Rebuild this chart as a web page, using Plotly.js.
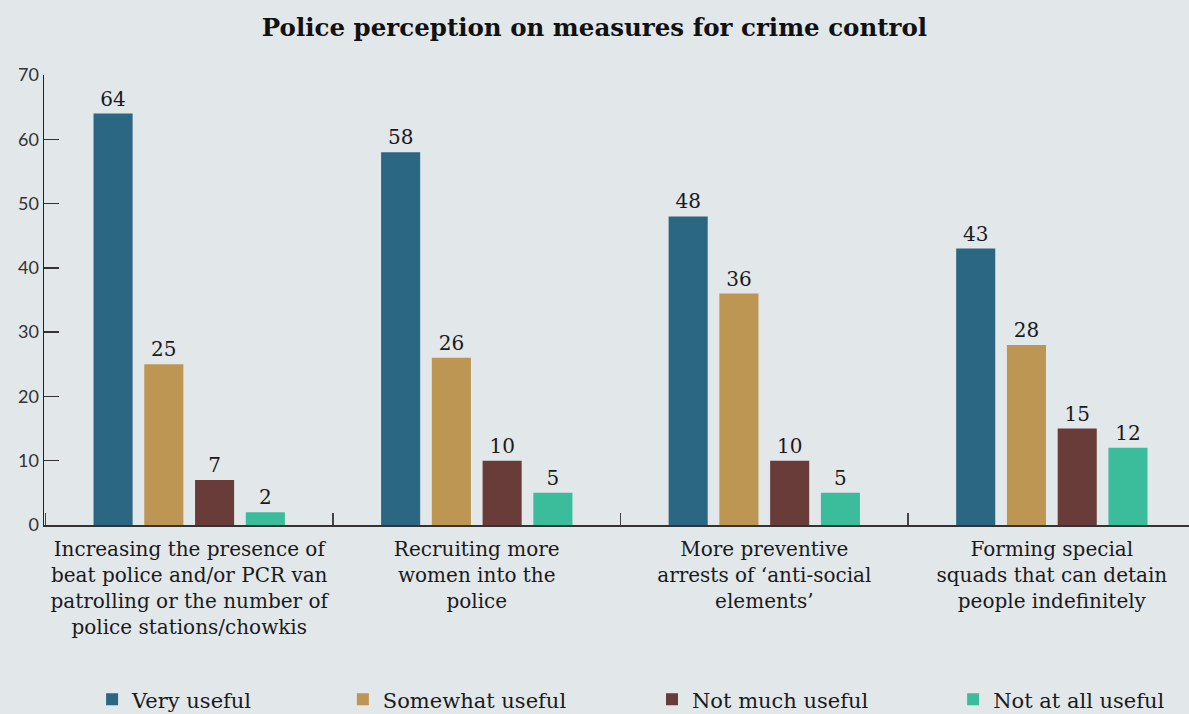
<!DOCTYPE html>
<html>
<head>
<meta charset="utf-8">
<script src="https://cdn.plot.ly/plotly-3.0.1.min.js"></script>
<style>html,body{margin:0;padding:0;background:#e2e7ea;}#chart{width:1189px;height:714px;}</style>
</head>
<body>
<div id="chart"></div>
<script>
const categories = [
  "Increasing the presence of<br>beat police and/or PCR van<br>patrolling or the number of<br>police stations/chowkis",
  "Recruiting more<br>women into the<br>police",
  "More preventive<br>arrests of \u2018anti-social<br>elements\u2019",
  "Forming special<br>squads that can detain<br>people indefinitely"
];
const seriesNames = ["Very useful", "Somewhat useful", "Not much useful", "Not at all useful"];
const veryUseful = [64, 58, 48, 43];
const somewhatUseful = [25, 26, 36, 28];
const notMuchUseful = [7, 10, 10, 15];
const notAtAllUseful = [2, 5, 5, 12];
const colors = ["#2b6782", "#bc9652", "#693b39", "#3bbd9c"];
const yTicks = [0, 10, 20, 30, 40, 50, 60, 70];

const serif = "'DejaVu Serif', serif";
const allValues = [veryUseful, somewhatUseful, notMuchUseful, notAtAllUseful];
const legendKeys = ["legend", "legend2", "legend3", "legend4"];
const legendX = [0.042, 0.261, 0.531, 0.794];

const traces = allValues.map((vals, i) => ({
  type: "bar",
  name: seriesNames[i],
  x: categories,
  y: vals,
  text: vals.map(String),
  textposition: "outside",
  textfont: {family: serif, size: 20, color: "#1a1a1a"},
  cliponaxis: false,
  marker: {color: colors[i]},
  legend: legendKeys[i],
  hoverinfo: "skip"
}));

const layout = {
  width: 1189,
  height: 714,
  paper_bgcolor: "#e2e7ea",
  plot_bgcolor: "#e2e7ea",
  margin: {l: 44, r: 0, t: 75, b: 189, autoexpand: false},
  title: {
    text: "<b>Police perception on measures for crime control</b>",
    font: {family: serif, size: 24.5, color: "#111"},
    x: 0.5, xanchor: "center", xref: "container",
    y: 0.962, yanchor: "middle", yref: "container"
  },
  barmode: "group",
  bargap: 0.294,
  bargroupgap: 0.23,
  xaxis: {
    range: [-0.505, 3.477],
    showline: true, linecolor: "#333", linewidth: 2,
    ticks: "inside", tickson: "boundaries", ticklen: 12, tickwidth: 1.5, tickcolor: "#444",
    tickfont: {family: serif, size: 20, color: "#1a1a1a"},
    tickangle: 0,
    ticklabelstandoff: 5,
    automargin: false,
    showgrid: false, zeroline: false, fixedrange: true
  },
  yaxis: {
    range: [0, 70],
    tickvals: yTicks,
    ticktext: yTicks.map(String),
    showline: true, linecolor: "#222", linewidth: 1.5,
    ticks: "inside", ticklen: 15, tickwidth: 1.5, tickcolor: "#333",
    tickfont: {family: "Lato, sans-serif", size: 18, color: "#333"},
    automargin: false,
    showgrid: false, zeroline: false, fixedrange: true
  },
  showlegend: true
};
legendKeys.forEach((k, i) => {
  layout[k] = {
    orientation: "h",
    x: legendX[i], xanchor: "left",
    y: 0.02, yanchor: "middle", yref: "container",
    bgcolor: "rgba(0,0,0,0)",
    font: {family: serif, size: 21, color: "#1a1a1a"},
    itemwidth: 30
  };
});

Plotly.newPlot("chart", traces, layout, {displayModeBar: false, staticPlot: true});
</script>
</body>
</html>
